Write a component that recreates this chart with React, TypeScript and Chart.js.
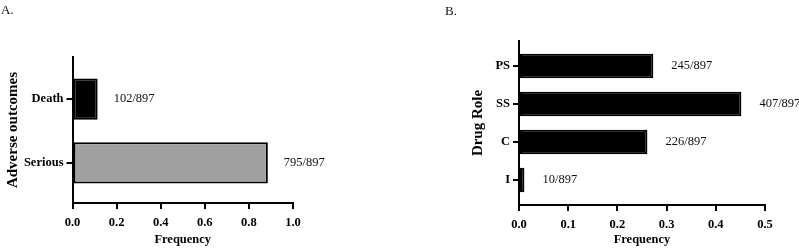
import React, { useEffect, useRef } from "react";
import { Chart, registerables } from "chart.js";

Chart.register(...registerables);

// Panel A
const outcomeLabels = ["Death", "Serious"];
const outcomeValues = [0.114, 0.886];
const outcomeText = ["102/897", "795/897"];
const outcomeColors = ["#000000", "#a0a0a0"];
const outcomeTicks = [0, 0.2, 0.4, 0.6, 0.8, 1.0];

// Panel B
const roleLabels = ["PS", "SS", "C", "I"];
const roleValues = [0.273, 0.452, 0.261, 0.011];
const roleText = ["245/897", "407/897", "226/897", "10/897"];
const roleColors = ["#000000", "#000000", "#000000", "#000000"];
const roleTicks = [0, 0.1, 0.2, 0.3, 0.4, 0.5];

const FONT = "'Liberation Serif', 'Times New Roman', serif";

type PanelCfg = {
  labels: string[];
  values: number[];
  texts: string[];
  colors: string[];
  xTicks: number[];
  yTitle: string;
  width: number;
  yMin: number;
  yMax: number;
  padLeft: number;
  padTop: number;
  padRight: number;
  yWidth: number;
  xHeight: number;
  labelOffset: number;
};

const valueLabelPlugin = {
  id: "valueLabels",
  afterDatasetsDraw(chart: any, _args: any, opts: any) {
    const ctx = chart.ctx;
    const meta = chart.getDatasetMeta(0);
    const texts: string[] = opts.texts || [];
    ctx.save();
    ctx.font = `12.5px ${FONT}`;
    ctx.fillStyle = "#111";
    ctx.textAlign = "left";
    ctx.textBaseline = "middle";
    meta.data.forEach((bar: any, i: number) => {
      ctx.fillText(texts[i], bar.x + (opts.offset || 16), bar.y);
    });
    ctx.restore();
  },
};

function Panel({ cfg }: { cfg: PanelCfg }) {
  const ref = useRef<HTMLCanvasElement | null>(null);
  useEffect(() => {
    if (!ref.current) return;
    const chart = new Chart(ref.current, {
      type: "bar",
      data: {
        datasets: [
          {
            data: cfg.values.map((v, i) => ({ x: v, y: i })),
            backgroundColor: cfg.colors,
            borderColor: "#000000",
            borderWidth: 2,
            borderSkipped: false,
            categoryPercentage: 0.8,
            barPercentage: 0.81,
          },
        ],
      },
      options: {
        indexAxis: "y",
        animation: false,
        responsive: false,
        maintainAspectRatio: false,
        layout: {
          padding: { left: cfg.padLeft, top: cfg.padTop, right: cfg.padRight, bottom: 0 },
        },
        plugins: {
          legend: { display: false },
          tooltip: { enabled: false },
          valueLabels: { texts: cfg.texts, offset: cfg.labelOffset },
        } as any,
        scales: {
          x: {
            type: "linear",
            min: cfg.xTicks[0],
            max: cfg.xTicks[cfg.xTicks.length - 1],
            afterBuildTicks: (scale: any) => {
              scale.ticks = cfg.xTicks.map((v) => ({ value: v }));
            },
            afterFit: (scale: any) => {
              scale.height = cfg.xHeight;
            },
            ticks: {
              callback: (v: any) => Number(v).toFixed(1),
              color: "#000",
              font: { family: FONT, size: 12.5, weight: "bold" },
              padding: 6,
              maxRotation: 0,
              autoSkip: false,
            },
            grid: {
              drawOnChartArea: false,
              drawTicks: true,
              tickLength: 6,
              color: "#000",
              lineWidth: 2,
              offset: false,
            },
            border: { display: true, color: "#000", width: 2 },
            title: {
              display: true,
              text: "Frequency",
              color: "#000",
              font: { family: FONT, size: 12.5, weight: "bold" },
              padding: { top: 2, bottom: 3 },
            },
          },
          y: {
            type: "linear",
            reverse: true,
            offset: false,
            bounds: "data",
            min: cfg.yMin,
            max: cfg.yMax,
            afterBuildTicks: (scale: any) => {
              scale.ticks = cfg.labels.map((_, i) => ({ value: i }));
            },
            afterFit: (scale: any) => {
              scale.width = cfg.yWidth;
            },
            ticks: {
              callback: (v: any) => cfg.labels[Math.round(Number(v))] ?? "",
              color: "#000",
              font: { family: FONT, size: 12.5, weight: "bold" },
              padding: 3,
              autoSkip: false,
            },
            grid: {
              drawOnChartArea: false,
              drawTicks: true,
              tickLength: 6,
              color: "#000",
              lineWidth: 2,
              offset: false,
            },
            border: { display: true, color: "#000", width: 2 },
            title: {
              display: true,
              text: cfg.yTitle,
              color: "#000",
              font: { family: FONT, size: 15, weight: "bold" },
              padding: { top: 4, bottom: 4 },
            },
          },
        },
      } as any,
      plugins: [valueLabelPlugin],
    });
    return () => chart.destroy();
  }, [cfg]);
  return <canvas ref={ref} width={cfg.width} height={250} style={{ display: "block" }} />;
}

const panelA: PanelCfg = {
  labels: outcomeLabels,
  values: outcomeValues,
  texts: outcomeText,
  colors: outcomeColors,
  xTicks: outcomeTicks,
  yTitle: "Adverse outcomes",
  width: 400,
  yMin: -0.66,
  yMax: 1.63,
  padLeft: 0,
  padTop: 57,
  padRight: 107,
  yWidth: 72.5,
  xHeight: 47,
  labelOffset: 16,
};

const panelB: PanelCfg = {
  labels: roleLabels,
  values: roleValues,
  texts: roleText,
  colors: roleColors,
  xTicks: roleTicks,
  yTitle: "Drug Role",
  width: 399,
  yMin: -0.66,
  yMax: 3.66,
  padLeft: 65,
  padTop: 41,
  padRight: 34,
  yWidth: 54,
  xHeight: 45,
  labelOffset: 18,
};

export default function App() {
  return (
    <div
      style={{
        position: "fixed",
        left: 0,
        top: 0,
        width: 799,
        height: 250,
        background: "#fff",
        overflow: "hidden",
      }}
    >
      <div style={{ position: "absolute", left: 0, top: 0 }}>
        <Panel cfg={panelA} />
      </div>
      <div style={{ position: "absolute", left: 400, top: 0 }}>
        <Panel cfg={panelB} />
      </div>
      <div
        style={{
          position: "absolute",
          left: 1,
          top: 2,
          fontFamily: FONT,
          fontSize: 13,
          color: "#111",
          lineHeight: "15px",
        }}
      >
        A.
      </div>
      <div
        style={{
          position: "absolute",
          left: 445,
          top: 3,
          fontFamily: FONT,
          fontSize: 13,
          color: "#111",
          lineHeight: "15px",
        }}
      >
        B.
      </div>
    </div>
  );
}
